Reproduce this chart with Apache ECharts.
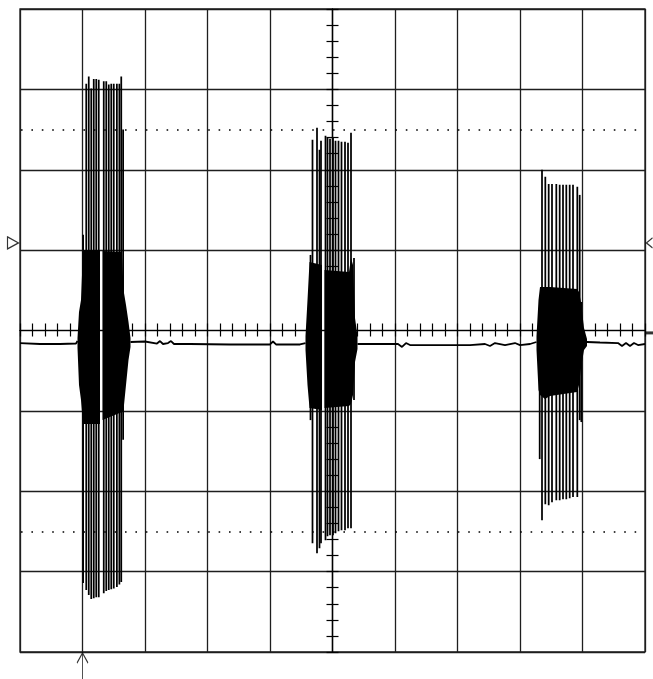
<!DOCTYPE html>
<html><head><meta charset="utf-8">
<script src="https://cdn.jsdelivr.net/npm/echarts@6/dist/echarts.min.js"></script>
<style>html,body{margin:0;padding:0;background:#fff}#c{width:653px;height:679px}</style>
</head><body><div id="c"></div><script>
// Screen in divisions: 10 horizontal (-5..5), 8 vertical (-4..4)
const xRange = [-5, 5];
const yRange = [-4, 4];
const dottedLevels = [2.5, -2.5];
const triggerLevel = 1.09;
const triggerTime = -4.0;
const groundLevel = -0.03;

// Burst 1 – individual peaks (x, top, bottom)
const b1SpikeX = [-3.99, -3.94, -3.90, -3.86, -3.82, -3.78, -3.74, -3.66, -3.62, -3.58, -3.54, -3.50, -3.45, -3.41, -3.38, -3.35];
const b1SpikeTop = [1.19, 3.07, 3.16, 3.01, 3.13, 3.13, 3.12, 3.10, 3.10, 3.06, 3.07, 3.07, 3.07, 3.07, 3.16, 2.50];
const b1SpikeBottom = [-3.14, -3.23, -3.29, -3.34, -3.33, -3.32, -3.32, -3.27, -3.24, -3.23, -3.22, -3.21, -3.19, -3.16, -3.13, -1.36];
// Burst 1 – dense envelope (two parts)
const b1aX = [-4.08, -4.056, -4.024, -3.992, -3.72];
const b1aTop = [-0.093, 0.23, 0.38, 1.002, 1.002];
const b1aBottom = [-0.218, -0.679, -0.866, -1.164, -1.164];
const b1bX = [-3.68, -3.368, -3.344, -3.304, -3.264, -3.232];
const b1bTop = [0.99, 0.978, 0.504, 0.317, 0.106, -0.093];
const b1bBottom = [-1.115, -1.015, -0.99, -0.679, -0.367, -0.205];

// Burst 2
const b2SpikeX = [-0.352, -0.32, -0.248, -0.208, -0.184, -0.112, -0.08, -0.04, 0.008, 0.048, 0.096, 0.144, 0.2, 0.248, 0.296, 0.344];
const b2SpikeTop = [0.94, 2.372, 2.522, 2.248, 2.36, 2.422, 2.397, 2.385, 2.397, 2.36, 2.36, 2.347, 2.347, 2.335, 2.46, 0.903];
const b2SpikeBottom = [-1.115, -2.646, -2.771, -2.709, -2.646, -2.609, -2.559, -2.547, -2.547, -2.522, -2.497, -2.485, -2.485, -2.46, -2.46, -0.865];
const b2aX = [-0.432, -0.40, -0.368, -0.168];
const b2aTop = [-0.068, 0.38, 0.853, 0.816];
const b2aBottom = [-0.243, -0.679, -0.965, -0.99];
const b2bX = [-0.128, 0.264, 0.296, 0.328, 0.36, 0.40];
const b2bTop = [0.753, 0.729, 0.903, 0.816, 0.156, -0.068];
const b2bBottom = [-0.965, -0.94, -0.915, -0.803, -0.392, -0.23];

// Burst 3
const b3SpikeX = [3.315, 3.352, 3.405, 3.459, 3.512, 3.581, 3.635, 3.688, 3.741, 3.795, 3.848, 3.917, 3.955, 3.981];
const b3SpikeTop = [-0.056, 1.999, 1.912, 1.824, 1.824, 1.824, 1.812, 1.812, 1.812, 1.812, 1.812, 1.787, 1.687, 0.355];
const b3SpikeBottom = [-1.6, -2.36, -2.161, -2.173, -2.136, -2.111, -2.111, -2.098, -2.098, -2.086, -2.073, -2.073, -1.115, -1.139];
const b3X = [3.264, 3.296, 3.32, 3.40, 3.48, 3.912, 3.944, 3.976, 4.024, 4.072];
const b3Top = [-0.068, 0.38, 0.542, 0.542, 0.542, 0.517, 0.479, 0.355, 0.031, -0.106];
const b3Bottom = [-0.243, -0.741, -0.803, -0.853, -0.816, -0.766, -0.679, -0.467, -0.243, -0.193];

// Quiet trace between bursts
const segAX = [-5.0, -4.68, -4.36, -4.104, -4.08];
const segAY = [-0.156, -0.168, -0.168, -0.162, -0.131];
const segBX = [-3.232, -3.0, -2.808, -2.76, -2.712, -2.632, -2.584, -2.536, -2.28, -1.64, -1.0, -0.952, -0.904, -0.52, -0.432];
const segBY = [-0.143, -0.137, -0.162, -0.131, -0.168, -0.156, -0.131, -0.168, -0.168, -0.174, -0.174, -0.137, -0.174, -0.174, -0.156];
const segCX = [0.40, 0.76, 1.048, 1.112, 1.176, 1.24, 1.72, 2.2, 2.44, 2.52, 2.6, 2.76, 2.92, 3.0, 3.16, 3.264];
const segCY = [-0.168, -0.168, -0.168, -0.205, -0.156, -0.181, -0.181, -0.181, -0.168, -0.193, -0.156, -0.181, -0.156, -0.181, -0.168, -0.143];
const segDX = [4.072, 4.28, 4.568, 4.632, 4.696, 4.76, 4.824, 4.888, 5.0];
const segDY = [-0.143, -0.149, -0.156, -0.193, -0.156, -0.193, -0.156, -0.181, -0.168];

const zip = (xs, ys) => xs.map((x, i) => [x, ys[i]]);
const spikes = (xs, t, b) => xs.map((x, i) => [x, t[i], b[i]]);

const corePieces = [
  {x: b1aX, top: b1aTop, bot: b1aBottom},
  {x: b1bX, top: b1bTop, bot: b1bBottom},
  {x: b2aX, top: b2aTop, bot: b2aBottom},
  {x: b2bX, top: b2bTop, bot: b2bBottom},
  {x: b3X, top: b3Top, bot: b3Bottom}
];

const INK = '#000';
const GRID = '#1e1e1e';

function spikeItem(params, api) {
  const p1 = api.coord([api.value(0), api.value(1)]);
  const p2 = api.coord([api.value(0), api.value(2)]);
  return {type: 'line', shape: {x1: p1[0], y1: p1[1], x2: p2[0], y2: p2[1]},
    style: {stroke: INK, lineWidth: 1.75}};
}
function coreItem(params, api) {
  const piece = corePieces[api.value(1)];
  const pts = [];
  piece.x.forEach((x, i) => pts.push(api.coord([x, piece.top[i]])));
  for (let i = piece.x.length - 1; i >= 0; i--) pts.push(api.coord([piece.x[i], piece.bot[i]]));
  return {type: 'polygon', shape: {points: pts}, style: {fill: INK}};
}

const hidden = {show: false};
const chart = echarts.init(document.getElementById('c'), null, {renderer: 'canvas'});
const tickLine = {color: INK, width: 1.2};

chart.setOption({
  animation: false,
  backgroundColor: '#fff',
  grid: {left: 20, top: 9, width: 625, height: 643, show: true, borderColor: GRID, borderWidth: 1.3, backgroundColor: 'transparent'},
  xAxis: [
    {type: 'value', min: xRange[0], max: xRange[1], interval: 1, position: 'bottom',
      axisLine: hidden, axisTick: hidden, axisLabel: hidden,
      splitLine: {show: true, lineStyle: {color: GRID, width: 1.3}}},
    {type: 'value', min: xRange[0], max: xRange[1], interval: 1, position: 'bottom',
      axisLine: {show: true, onZero: true, onZeroAxisIndex: 0, lineStyle: tickLine},
      axisTick: {show: true, inside: false, length: 6, lineStyle: tickLine},
      minorTick: {show: true, splitNumber: 5, length: 6, lineStyle: tickLine},
      axisLabel: hidden, splitLine: hidden},
    {type: 'value', min: xRange[0], max: xRange[1], interval: 1, position: 'top',
      axisLine: {show: true, onZero: true, onZeroAxisIndex: 0, lineStyle: tickLine},
      axisTick: {show: true, inside: false, length: 7, lineStyle: tickLine},
      minorTick: {show: true, splitNumber: 5, length: 7, lineStyle: tickLine},
      axisLabel: hidden, splitLine: hidden}
  ],
  yAxis: [
    {type: 'value', min: yRange[0], max: yRange[1], interval: 1, position: 'left',
      axisLine: hidden, axisTick: hidden, axisLabel: hidden,
      splitLine: {show: true, lineStyle: {color: GRID, width: 1.3}}},
    {type: 'value', min: yRange[0], max: yRange[1], interval: 1, position: 'left',
      axisLine: {show: true, onZero: true, onZeroAxisIndex: 0, lineStyle: tickLine},
      axisTick: {show: true, inside: false, length: 6, lineStyle: tickLine},
      minorTick: {show: true, splitNumber: 5, length: 6, lineStyle: tickLine},
      axisLabel: hidden, splitLine: hidden},
    {type: 'value', min: yRange[0], max: yRange[1], interval: 1, position: 'right',
      axisLine: {show: true, onZero: true, onZeroAxisIndex: 0, lineStyle: tickLine},
      axisTick: {show: true, inside: false, length: 6, lineStyle: tickLine},
      minorTick: {show: true, splitNumber: 5, length: 6, lineStyle: tickLine},
      axisLabel: hidden, splitLine: hidden}
  ],
  series: [
    {type: 'line', name: 'dotted', data: [], silent: true,
      markLine: {silent: true, symbol: 'none', label: hidden,
        lineStyle: {color: INK, width: 1.5, type: [1.6, 8.8], dashOffset: -1},
        data: dottedLevels.map(v => ({yAxis: v}))}},
    ...[zip(segAX, segAY), zip(segBX, segBY), zip(segCX, segCY), zip(segDX, segDY)].map(d => ({
      type: 'line', data: d, showSymbol: false, silent: true,
      lineStyle: {color: INK, width: 1.8}})),
    {type: 'custom', renderItem: coreItem, silent: true,
      data: corePieces.map((p, i) => [p.x[0], i])},
    {type: 'custom', renderItem: spikeItem, silent: true,
      encode: {x: 0, y: [1, 2]},
      data: [...spikes(b1SpikeX, b1SpikeTop, b1SpikeBottom),
             ...spikes(b2SpikeX, b2SpikeTop, b2SpikeBottom),
             ...spikes(b3SpikeX, b3SpikeTop, b3SpikeBottom)]},
    // trigger / reference markers
    {type: 'scatter', clip: false, silent: true, z: 10,
      data: [{value: [xRange[0], triggerLevel], symbol: 'path://M0,0 L11,6 L0,12 Z', symbolSize: [11, 12], symbolOffset: [-7, 0],
               itemStyle: {color: '#fff', borderColor: INK, borderWidth: 1.2}},
             {value: [xRange[1], triggerLevel], symbol: 'path://M6,0 L0,5 L6,10', symbolSize: [6, 10], symbolOffset: [4.5, 0],
               itemStyle: {color: 'none', borderColor: INK, borderWidth: 1.2}},
             {value: [xRange[1], groundLevel], symbol: 'rect', symbolSize: [8, 3], symbolOffset: [4.5, 0],
               itemStyle: {color: INK}},
             {value: [triggerTime, yRange[0]], symbol: 'path://M6,0 L6,26 M1,10 L6,0 L11,10', symbolSize: [11, 26], symbolOffset: [0, 14],
               itemStyle: {color: 'none', borderColor: INK, borderWidth: 1.3}}]}
  ]
});
</script></body></html>
